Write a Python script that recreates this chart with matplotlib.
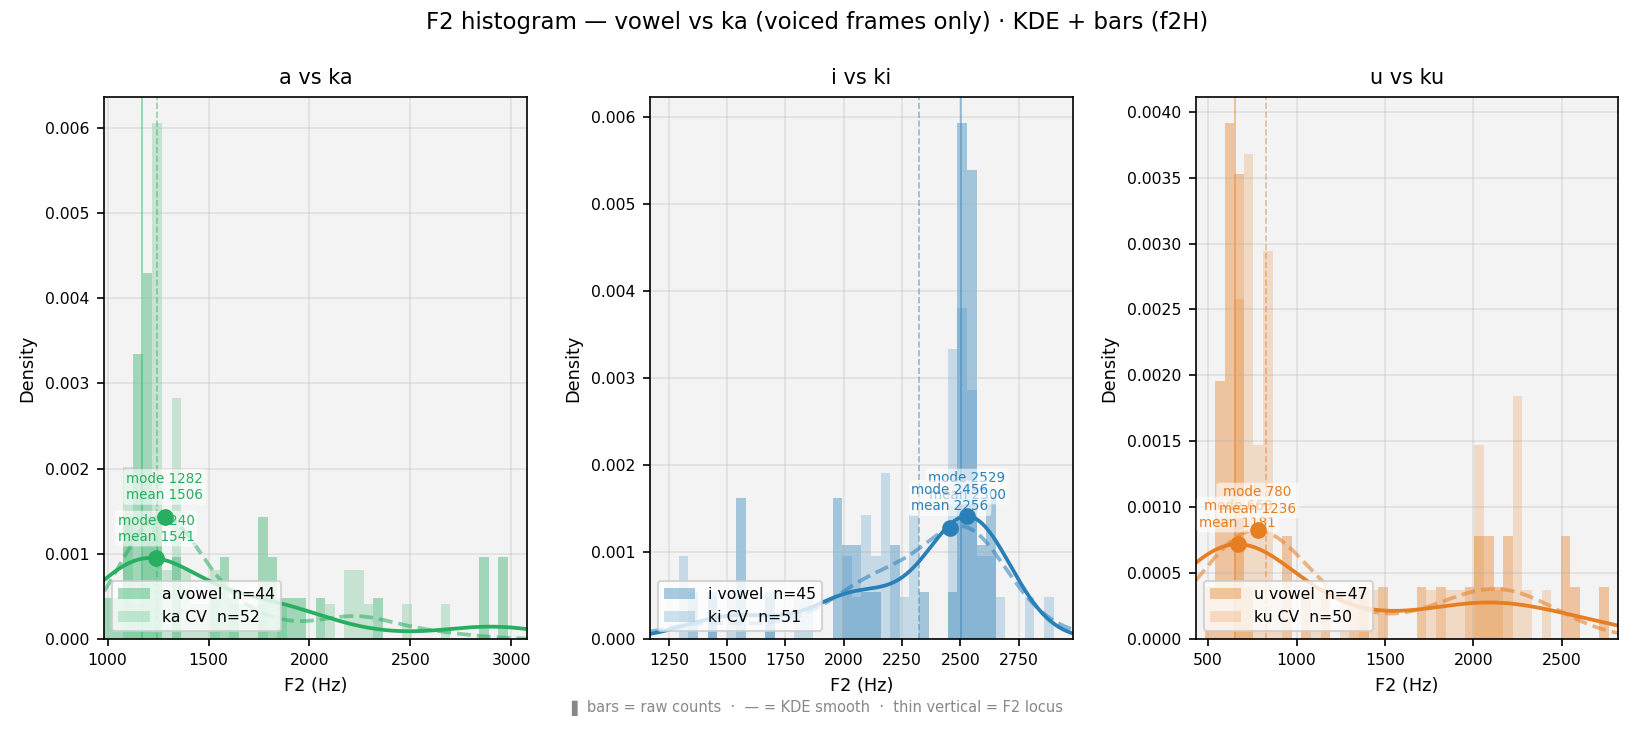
import numpy as np
import matplotlib
matplotlib.use("Agg")
import matplotlib.pyplot as plt
from matplotlib.ticker import MultipleLocator

# ---------------- data ----------------
vowels = ["a", "i", "u"]
cvs = ["ka", "ki", "ku"]
colors = ["#27ae60", "#2980b9", "#e67e22"]

# histogram range (Hz) per panel; 44 equal bins across it
x_lo = [983.5, 1168.7, 430.4]
x_hi = [3077.7, 2982.6, 2819.9]
x_tick_step = [500, 250, 500]

# raw counts per bin (44 bins)
vowel_a = [1, 1, 3, 7, 9, 3, 0, 2, 0, 0, 0, 1, 2, 1, 0, 0, 3, 2, 1, 1, 1, 0,
           1, 0, 0, 0, 0, 0, 1, 0, 0, 0, 0, 0, 0, 0, 0, 0, 0, 2, 0, 2, 0, 0]
cv_ka = [0, 0, 5, 1, 3, 15, 2, 7, 2, 1, 1, 2, 0, 1, 1, 1, 1, 0, 1, 0, 0, 0,
         0, 1, 0, 2, 2, 1, 0, 0, 0, 1, 0, 0, 0, 1, 0, 0, 0, 0, 0, 0, 0, 0]
vowel_i = [0, 0, 0, 0, 1, 0, 1, 0, 0, 3, 0, 0, 1, 0, 0, 0, 0, 0, 0, 3, 2, 2,
           1, 1, 0, 2, 0, 0, 1, 0, 0, 1, 11, 10, 2, 3, 0, 0, 0, 0, 0, 0, 0, 0]
cv_ki = [0, 0, 0, 2, 0, 0, 1, 0, 1, 0, 0, 0, 1, 0, 0, 1, 1, 0, 0, 0, 2, 1,
         3, 2, 4, 0, 1, 3, 0, 0, 0, 7, 8, 6, 2, 2, 1, 0, 0, 1, 0, 1, 0, 0]
vowel_u = [0, 1, 5, 10, 9, 1, 0, 0, 0, 2, 0, 1, 0, 1, 0, 0, 1, 1, 0, 1, 0, 0,
           0, 1, 0, 1, 0, 0, 1, 2, 2, 1, 2, 0, 0, 0, 0, 0, 2, 1, 0, 0, 1, 0]
cv_ku = [0, 0, 0, 0, 7, 10, 4, 8, 1, 0, 0, 0, 1, 0, 0, 1, 0, 1, 1, 0, 0, 0,
         0, 0, 1, 0, 1, 1, 0, 4, 1, 1, 0, 5, 1, 0, 1, 0, 0, 0, 0, 0, 0, 0]

vowel_counts = [vowel_a, vowel_i, vowel_u]
cv_counts = [cv_ka, cv_ki, cv_ku]

vowel_mode = [1240, 2529, 668]
vowel_mean = [1541, 2300, 1181]
cv_mode = [1282, 2456, 780]
cv_mean = [1506, 2256, 1236]

vowel_locus = [1170, 2505, 650]
cv_locus = [1246, 2321, 829]


def gauss_kde(samples):
    s = np.asarray(samples, dtype=float)
    n = len(s)
    bw = s.std(ddof=1) * n ** (-1 / 5)

    def f(x):
        x = np.atleast_1d(np.asarray(x, dtype=float))
        z = (x[:, None] - s[None, :]) / bw
        return np.exp(-0.5 * z ** 2).sum(axis=1) / (n * bw * np.sqrt(2 * np.pi))
    return f


fig, axes = plt.subplots(1, 3, figsize=(1634 / 150, 732 / 150), dpi=150)
fig.subplots_adjust(left=0.0638, right=0.9905, top=0.8676, bottom=0.1273,
                    wspace=0.291)

for k, ax in enumerate(axes):
    col = colors[k]
    edges = np.linspace(x_lo[k], x_hi[k], 45)
    centers = 0.5 * (edges[:-1] + edges[1:])
    vc = np.array(vowel_counts[k])
    cc = np.array(cv_counts[k])

    ax.set_facecolor("#f3f3f3")
    ax.grid(True, color="#b0b0b0", alpha=0.3, lw=0.8)

    hv = ax.hist(centers, bins=edges, weights=vc, density=True, color=col,
                 alpha=0.4, label=f"{vowels[k]} vowel  n={vc.sum()}")
    hc = ax.hist(centers, bins=edges, weights=cc, density=True, color=col,
                 alpha=0.22, label=f"{cvs[k]} CV  n={cc.sum()}")
    ymax = 1.05 * max(hv[0].max(), hc[0].max())

    fv = gauss_kde(np.repeat(centers, vc))
    fc = gauss_kde(np.repeat(centers, cc))
    grid = np.linspace(x_lo[k], x_hi[k], 500)
    ax.plot(grid, fv(grid), color=col, lw=1.8)
    ax.plot(grid, fc(grid), color=col, lw=1.8, ls="--", alpha=0.55)

    ax.axvline(vowel_locus[k], color=col, lw=0.8, alpha=0.5)
    ax.axvline(cv_locus[k], color=col, lw=0.8, ls="--", alpha=0.5)

    for m, mu, f in [(vowel_mode[k], vowel_mean[k], fv),
                     (cv_mode[k], cv_mean[k], fc)]:
        yv = f(m)[0]
        ax.plot([m], [yv], "o", color=col, ms=7, zorder=5)
        ax.annotate(f"mode {m}\nmean {mu}", xy=(m, yv), xytext=(0, 7),
                    textcoords="offset points", ha="center", va="bottom",
                    fontsize=6.5, color=col,
                    bbox=dict(boxstyle="round,pad=0.2", fc="white",
                              ec="none", alpha=0.6))

    ax.set_xlim(x_lo[k], x_hi[k])
    ax.set_ylim(0, ymax)
    ax.xaxis.set_major_locator(MultipleLocator(x_tick_step[k]))
    ax.set_title(f"{vowels[k]} vs {cvs[k]}", fontsize=10)
    ax.set_xlabel("F2 (Hz)", fontsize=8.5)
    ax.set_ylabel("Density", fontsize=8.5)
    ax.tick_params(labelsize=7.5)
    ax.legend(loc="lower left", fontsize=7.5, framealpha=0.8)

fig.suptitle("F2 histogram — vowel vs ka (voiced frames only) · KDE + bars (f2H)",
             fontsize=11, y=0.9686, va="center")
fig.text(0.5, 0.0333,
         "▌ bars = raw counts  ·  — = KDE smooth  ·  thin vertical = F2 locus",
         ha="center", va="center", fontsize=7.0, color="#888888")

fig.savefig("out.png", dpi=150)
